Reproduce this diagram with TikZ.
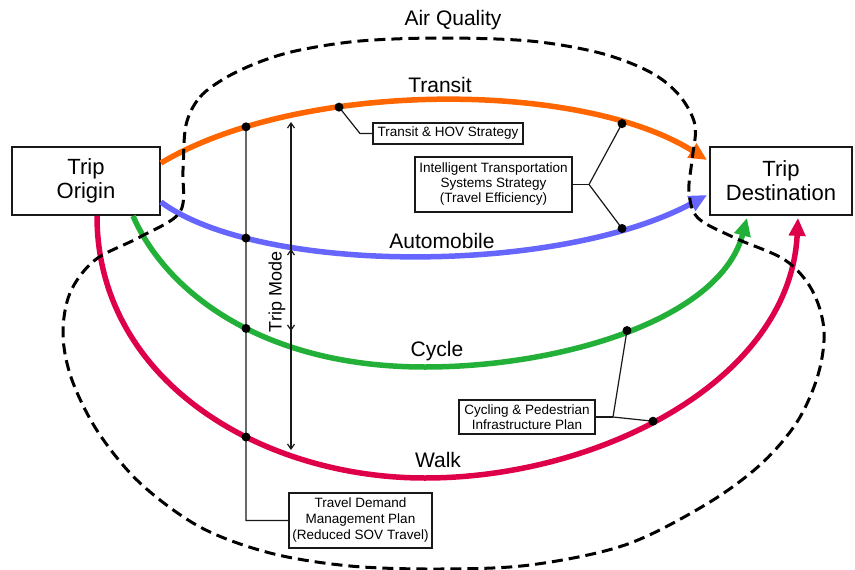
\documentclass[tikz,border=0pt]{standalone}
\usepackage{fontspec}
\setmainfont{Liberation Sans}
\usetikzlibrary{arrows.meta,calc,intersections}
\definecolor{cTransit}{RGB}{255,102,0}
\definecolor{cAuto}{RGB}{102,102,255}
\definecolor{cCycle}{RGB}{34,176,56}
\definecolor{cWalk}{RGB}{222,0,72}
\definecolor{ink}{RGB}{25,25,25}
\begin{document}
\begin{tikzpicture}[x=1pt,y=-1pt,
  bigbox/.style={draw=ink,line width=1.8pt,inner sep=0pt,align=center,
    font=\fontsize{22}{24}\selectfont},
  smallbox/.style={draw=ink,line width=1.4pt,inner sep=0pt,align=center,
    font=\fontsize{13.5}{15}\selectfont},
  lbl/.style={inner sep=0pt,font=\fontsize{21}{24}\selectfont},
  mode/.style={line width=5.5pt,-{Triangle[length=18pt,width=16pt]}},
  dot/.style={circle,fill=black,inner sep=0pt,minimum size=9pt},
  leader/.style={draw=ink,line width=1.2pt},
  airq/.style={line width=3pt,dash pattern=on 11pt off 6pt},
  tmarrow/.style={draw=ink,line width=1.2pt,-{Straight Barb[length=5pt,width=7pt]}}
]
\useasboundingbox (0,0) rectangle (855,570);

% boxes
\node[bigbox,minimum width=148pt,minimum height=68pt] (orig) at (86,181) {Trip\\Origin};
\node[bigbox,minimum width=142pt,minimum height=68pt] (dest) at (781,181) {Trip\\Destination};

% curve end points
\coordinate (oT) at ($(orig.east)+(0,-18)$);
\coordinate (oA) at ($(orig.east)+(0,21)$);
\coordinate (oC) at ($(orig.south)+(47,0)$);
\coordinate (oW) at ($(orig.south)+(11,0)$);
\coordinate (dT) at ($(dest.west)+(-2,-21)$);
\coordinate (dA) at ($(dest.west)+(-2,14)$);
\coordinate (dC) at ($(dest.south)+(-34,2)$);
\coordinate (dW) at ($(dest.south)+(17,2)$);
\coordinate (cp) at (425,367);
\coordinate (wp) at (425,478);

% mode curves
\draw[mode,cTransit,name path=transit] (oT) .. controls (300,80) and (580,80) .. (dT);
\draw[mode,cAuto,name path=auto] (oA) .. controls (260,275) and (560,275) .. (dA);
\draw[mode,cCycle,name path=cycle] (oC) .. controls (165,290) and (260,367) .. (cp)
   .. controls (560,367) and (720,320) .. (dC);
\draw[mode,cWalk,name path=walk] (oW) .. controls (97,380) and (260,478) .. (wp)
   .. controls (600,478) and (790,380) .. (dW);

% helper verticals (not drawn)
\path[name path=v246] (246,0) -- (246,570);
\path[name path=v339] (339,0) -- (339,570);
\path[name path=v622] (622,0) -- (622,570);
\path[name path=v627] (627,0) -- (627,570);
\path[name path=v653] (653,0) -- (653,570);
\path[name intersections={of=transit and v246,by=t1}];
\path[name intersections={of=transit and v339,by=t2}];
\path[name intersections={of=transit and v622,by=t3}];
\path[name intersections={of=auto and v246,by=a1}];
\path[name intersections={of=auto and v622,by=a3}];
\path[name intersections={of=cycle and v246,by=c1}];
\path[name intersections={of=cycle and v627,by=c3}];
\path[name intersections={of=walk and v246,by=w1}];
\path[name intersections={of=walk and v653,by=w3}];

% air quality boundary
\draw[airq] plot[smooth cycle,tension=0.55] coordinates {
 (186,125) (200,97) (227,77) (262,61) (300,50) (360,41) (440,38) (530,41)
 (600,53) (650,72) (679,95) (695,125) (692,160) (689,192) (698,218) (735,238)
 (785,260) (812,290) (824,330) (818,375) (797,422) (760,465) (705,505) (625,545)
 (530,565) (440,569) (350,566) (270,553) (200,527) (140,483) (98,432) (72,380)
 (63,335) (70,293) (95,260) (140,237) (180,212) (183,170)};

% labels
\node[lbl] (lAir) at (453,20) {Air Quality};
\node[lbl] (lTransit) at (440,85) {Transit};
\node[lbl] (lAuto) at (442,241) {Automobile};
\node[lbl] (lCycle) at (437,351) {Cycle};
\node[lbl] (lWalk) at (438,460) {Walk};

% strategy boxes
\node[smallbox,minimum width=150pt,minimum height=21pt] (hov) at (448,133.5) {Transit \& HOV Strategy};
\node[smallbox,minimum width=157pt,minimum height=55pt] (its) at (493.5,184.5) {Intelligent Transportation\\Systems Strategy\\(Travel Efficiency)};
\node[smallbox,minimum width=136pt,minimum height=34pt] (cyc) at (527,417) {Cycling \& Pedestrian\\Infrastructure Plan};
\node[smallbox,minimum width=143pt,minimum height=55pt,font=\fontsize{13.5}{16}\selectfont] (tdm) at (360.5,520.5) {Travel Demand\\Management Plan\\(Reduced SOV Travel)};

% leaders
\coordinate (hovk) at (360,133.5);
\coordinate (itsk) at (589,184.5);
\coordinate (cyck) at (613,417);
\coordinate (tdmk) at (246,520.5);
\draw[leader] (t2) -- (hovk) -- (hov.west);
\draw[leader] (its.east) -- (itsk);
\draw[leader] (itsk) -- (t3);
\draw[leader] (itsk) -- (a3);
\draw[leader] (cyc.east) -- (cyck);
\draw[leader] (cyck) -- (c3);
\draw[leader] (cyck) -- (w3);
\draw[leader] (t1) -- (tdmk) -- (tdm.west);

% dots
\foreach \p in {t1,t2,t3,a1,a3,c1,c3,w1,w3} \node[dot] at (\p) {};

% trip mode
\coordinate (tmm) at (291,290);
\coordinate (tmA) at (291,122);
\coordinate (tmB) at (291,249);
\coordinate (tmC) at (291,331);
\coordinate (tmD) at (291,450);
\draw[tmarrow] (tmm) -- (tmA);
\draw[tmarrow] (tmm) -- (tmB);
\draw[tmarrow] (tmm) -- (tmC);
\draw[tmarrow] (tmm) -- (tmD);
\node[inner sep=0pt,rotate=90,font=\fontsize{18}{20}\selectfont] (tmode) at (277,292) {Trip Mode};
\end{tikzpicture}
\end{document}
